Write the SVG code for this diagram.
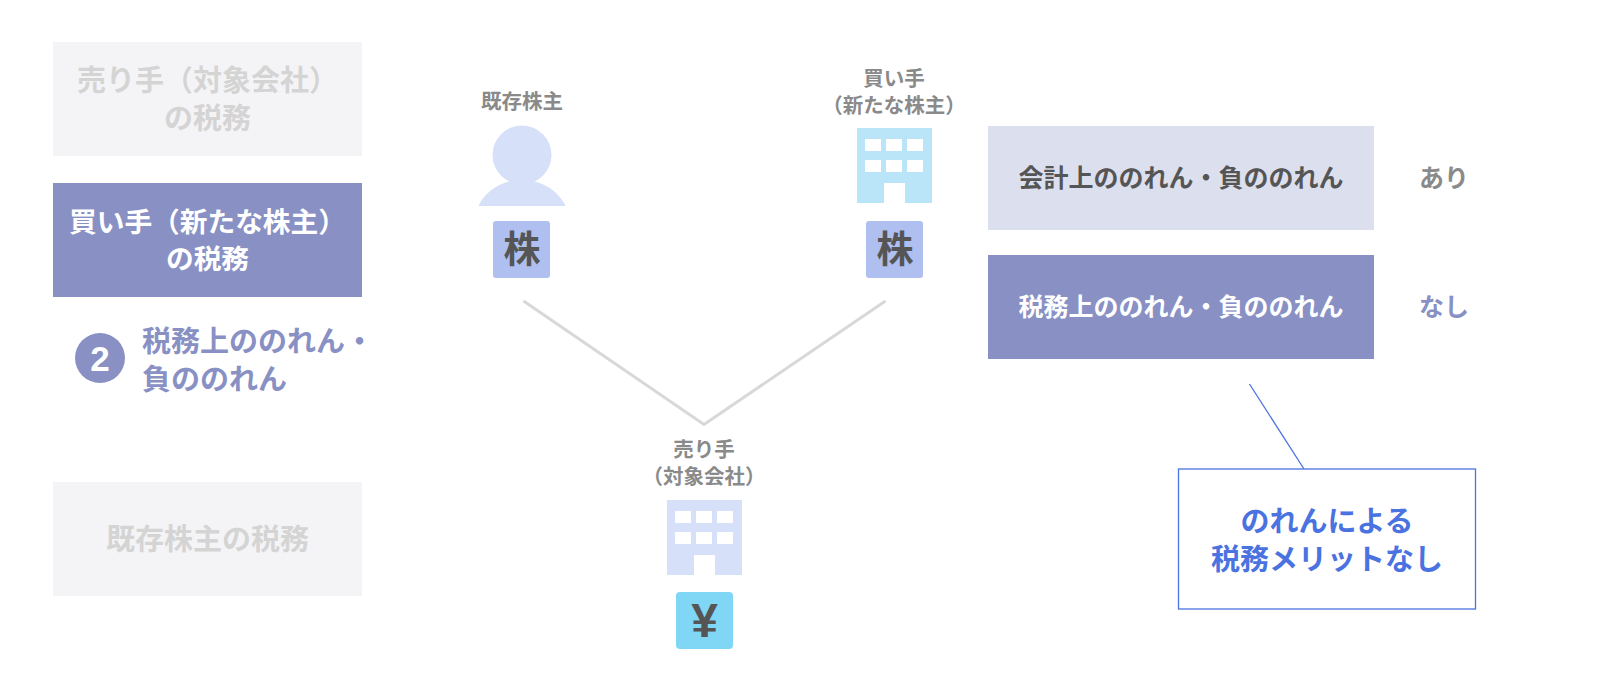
<svg xmlns="http://www.w3.org/2000/svg" width="1600" height="692" viewBox="0 0 1600 692">
<style>
text{font-family:"Noto Sans CJK JP","Noto Sans",sans-serif;font-weight:700;text-anchor:middle}
.box{font-size:29px}
.buy{font-size:27.700px}
.lab{font-size:20.500px;fill:#8a8a8a}
.mark{font-size:37px;fill:#555}
.side{font-size:25px}
.conn{fill:none}
.lat{font-family:"Liberation Sans",sans-serif}
.st{font-size:29px;fill:#8890c4;text-anchor:start}
</style>
<rect width="1600" height="692" fill="#fff"/>
<g id="connectors" class="conn">
<path d="M523.500 301L704 424.500L885.500 301" stroke="#d8d8d8" stroke-width="3"/>
<path d="M1249.500 384L1304 469" stroke="#4a72e0" stroke-width="1.300"/>
</g>
<g id="tab-seller"><rect x="53" y="42" width="309" height="114" fill="#f4f4f6"/><text class="box" fill="#d4d4d4" x="207.500" y="91">売り手（対象会社）</text><text class="box" fill="#d4d4d4" x="207.500" y="129">の税務</text></g>
<g id="tab-buyer"><rect x="53" y="183" width="309" height="114" fill="#8890c4"/><text class="buy" fill="#fff" x="207.500" y="232">買い手（新たな株主）</text><text class="buy" fill="#fff" x="207.500" y="269">の税務</text></g>
<g id="step-2"><circle cx="100" cy="358" r="25" fill="#8890c4"/><text class="lat" x="100" y="371" font-size="35" fill="#fff">2</text><text class="st" x="142" y="352">税務上ののれん・</text><text class="st" x="142" y="390">負ののれん</text></g>
<g id="tab-holder"><rect x="53" y="482" width="309" height="114" fill="#f4f4f6"/><text class="box" fill="#d4d4d4" x="207.500" y="550">既存株主の税務</text></g>
<g id="holder"><text class="lab" x="522" y="109">既存株主</text><circle cx="522" cy="155" r="29.500" fill="#d6e0f8"/><path d="M478.500 206C486 190 503 180 522 180S558 190 565.500 206Z" fill="#d6e0f8"/><rect x="493" y="221" width="57" height="57" rx="3" fill="#aebff0"/><text class="mark" x="522" y="263">株</text></g>
<g id="buyer"><text class="lab" x="894" y="86">買い手</text><text class="lab" x="894" y="113">（新たな株主）</text><path d="M857 128H932V203H905V183H884V203H857Z" fill="#bae5f8"/><path d="M865 139H881V151H865ZM886 139H902V151H886ZM907 139H923V151H907ZM865 160H881V172H865ZM886 160H902V172H886ZM907 160H923V172H907Z" fill="#fff"/><rect x="866" y="221" width="57" height="57" rx="3" fill="#aebff0"/><text class="mark" x="895" y="263">株</text></g>
<g id="seller"><text class="lab" x="704" y="457">売り手</text><text class="lab" x="704" y="484">（対象会社）</text><path d="M667 500H742V575H715V555H694V575H667Z" fill="#d6e0f8"/><path d="M675 511H691V523H675ZM696 511H712V523H696ZM717 511H733V523H717ZM675 532H691V544H675ZM696 532H712V544H696ZM717 532H733V544H717Z" fill="#fff"/><rect x="676" y="592" width="57" height="57" rx="4" fill="#7fd6f5"/><text class="mark lat" x="704.500" y="637" style="font-size:48px">¥</text></g>
<g id="acct"><rect x="988" y="126" width="386" height="104" fill="#dcdfee"/><text class="side" fill="#555" x="1181" y="187">会計上ののれん・負ののれん</text><text class="side" fill="#8a8a8a" x="1444" y="187">あり</text></g>
<g id="tax"><rect x="988" y="255" width="386" height="104" fill="#8890c4"/><text class="side" fill="#fff" x="1181" y="316">税務上ののれん・負ののれん</text><text class="side" fill="#8890c4" x="1444" y="316">なし</text></g>
<g id="note"><rect x="1178.500" y="469" width="297" height="140" fill="#fff" stroke="#4a72e0" stroke-width="1.300"/><text font-size="29" fill="#4a72e0" x="1327" y="532">のれんによる</text><text font-size="29" fill="#4a72e0" x="1327" y="570">税務メリットなし</text></g>
</svg>
